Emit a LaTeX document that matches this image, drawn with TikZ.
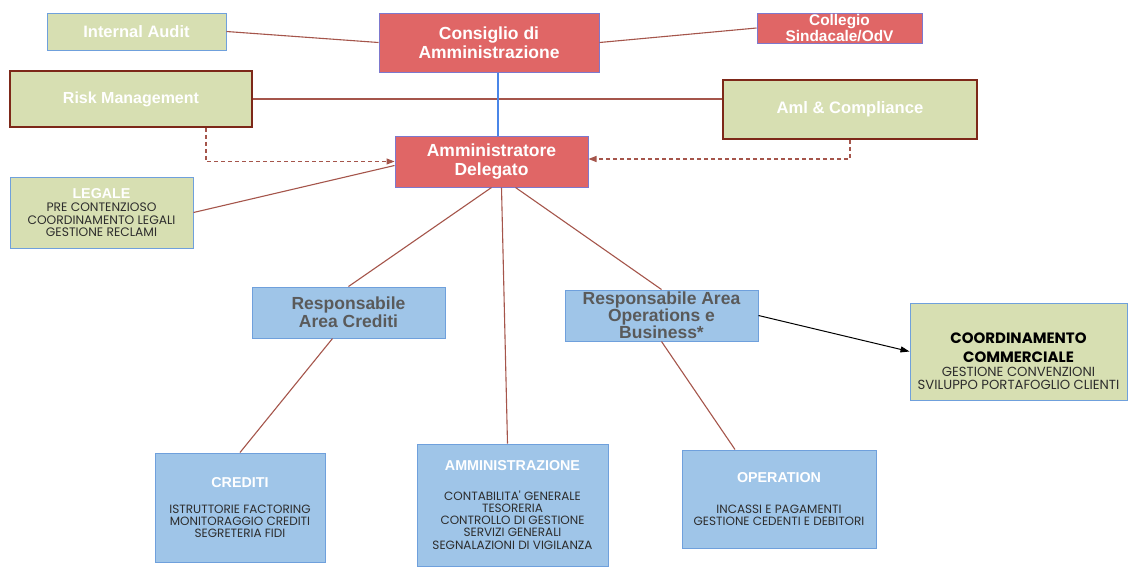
\documentclass[tikz,border=0pt]{standalone}
\usepackage{fontspec}
\setmainfont{Liberation Sans}
\newfontfamily\gothic{Poppins}
\usetikzlibrary{arrows.meta,calc}

\definecolor{boardred}{RGB}{224,102,102}
\definecolor{boardedge}{RGB}{125,120,205}
\definecolor{sage}{RGB}{215,223,178}
\definecolor{skyfill}{RGB}{159,197,232}
\definecolor{skyedge}{RGB}{111,160,220}
\definecolor{rust}{RGB}{125,40,25}
\definecolor{linkbrown}{RGB}{165,85,75}
\definecolor{wireblue}{RGB}{74,134,232}
\definecolor{headgray}{RGB}{90,90,90}
\definecolor{listgray}{RGB}{45,45,45}

\tikzset{
  box/.style={draw, inner sep=0pt, align=center, line width=1pt},
  redbox/.style={box, fill=boardred, draw=boardedge, text=white, font=\bfseries\fontsize{17.5}{18.5}\selectfont},
  sagebox/.style={box, fill=sage, draw=skyedge, text=white, font=\bfseries\fontsize{16.5}{18}\selectfont},
  rustbox/.style={box, fill=sage, draw=rust, line width=1.6pt, text=white, font=\bfseries\fontsize{16}{18}\selectfont},
  skybox/.style={box, fill=skyfill, draw=skyedge, text=headgray, font=\bfseries\fontsize{17.5}{18}\selectfont},
  unitbox/.style={box, fill=skyfill, draw=skyedge, text=listgray, font=\gothic\fontsize{12}{12.3}\selectfont},
  link/.style={draw=linkbrown, line width=1.1pt},
  dotlink/.style={link, dash pattern=on 4pt off 3pt, -{Triangle[length=8pt,width=6pt]}},
}
\newcommand{\unittitle}[1]{\textcolor{white}{\rmfamily\bfseries\fontsize{14.3}{14}\selectfont #1}}

\begin{document}
\begin{tikzpicture}[x=1pt,y=-1pt]
  \useasboundingbox[fill=white] (0,0) rectangle (1128,566);

  % top level
  \node[sagebox, minimum width=179pt, minimum height=37pt] at (136.5,31.5) (ia) {Internal Audit};
  \node[redbox, minimum width=220pt, minimum height=59pt] at (489,42.5) (cons) {Consiglio di\\Amministrazione};
  \node[redbox, minimum width=165pt, minimum height=30pt, font=\bfseries\fontsize{15.4}{14}\selectfont] at (839.5,28) (coll) {Collegio\\Sindacale/OdV};
  \node[rustbox, minimum width=242pt, minimum height=56pt] at (131,99) (risk) {Risk Management};
  \node[rustbox, minimum width=254pt, minimum height=59pt, font=\bfseries\fontsize{16.6}{18}\selectfont] at (850,109.5) (aml) {Aml \& Compliance};
  \node[redbox, minimum width=193pt, minimum height=51pt] at (491.5,161.5) (ad) {Amministratore\\Delegato};
  \node[sagebox, minimum width=183pt, minimum height=71pt, text=listgray, font=\gothic\fontsize{12.3}{12.3}\selectfont] at (101.5,212.5) (legale)
    {\unittitle{LEGALE}\\[1pt]PRE CONTENZIOSO\\COORDINAMENTO LEGALI\\GESTIONE RECLAMI};

  % middle level
  \node[skybox, minimum width=193pt, minimum height=51pt] at (348.5,312.5) (rcred) {Responsabile\\Area Crediti};
  \node[skybox, minimum width=193pt, minimum height=51pt, font=\bfseries\fontsize{17.5}{17}\selectfont] at (661.5,315.5) (rops) {Responsabile Area\\Operations e\\Business*};
  \node[sagebox, minimum width=217pt, minimum height=97pt, text=listgray, font=\gothic\fontsize{13.2}{12.6}\selectfont] at (1018.5,351.5) (coord)
    {\rule{0pt}{30pt}\textcolor{black}{\bfseries\fontsize{15}{14}\selectfont COORDINAMENTO}\\[6pt]\textcolor{black}{\bfseries\fontsize{15}{14}\selectfont COMMERCIALE}\\[2pt]GESTIONE CONVENZIONI\\SVILUPPO PORTAFOGLIO CLIENTI};

  % units
  \node[unitbox, minimum width=170pt, minimum height=109pt] at (240,507.5) (cred)
    {\unittitle{CREDITI}\\[14pt]ISTRUTTORIE FACTORING\\MONITORAGGIO CREDITI\\SEGRETERIA FIDI};
  \node[unitbox, minimum width=191pt, minimum height=122pt] at (512.5,505) (amm)
    {\unittitle{AMMINISTRAZIONE}\\[17pt]CONTABILITA' GENERALE\\TESORERIA\\CONTROLLO DI GESTIONE\\SERVIZI GENERALI\\SEGNALAZIONI DI VIGILANZA};
  \node[unitbox, minimum width=194pt, minimum height=98pt] at (779,499) (oper)
    {\unittitle{OPERATION}\\[19pt]INCASSI E PAGAMENTI\\GESTIONE CEDENTI E DEBITORI};

  % connectors
  \draw[link] (ia.east) -- (cons.west);
  \draw[link] (cons.east) -- (coll.west);
  \draw[link] (risk.east) -- (risk.east -| aml.west);
  \draw[draw=wireblue, line width=1.1pt] ($(cons.south)+(9,0)$) -- ($(ad.north)+(6.5,0)$);
  \draw[dotlink] ($(risk.south)+(75,0)$) |- (ad.west);
  \draw[dotlink] (aml.south) |- ($(ad.east)+(0,-2.5)$);
  \draw[link] (legale.east) -- ($(ad.west)+(0,4)$);
  \draw[link] (ad.south) -- (rcred.north);
  \draw[link] ($(ad.south)+(10,0)$) -- ($(amm.north)+(-5,0)$);
  \draw[link] ($(ad.south)+(24,0)$) -- (rops.north);
  \draw[link] (rops.south) -- ($(oper.north)+(-44,0)$);
  \draw[link] ($(rcred.south)+(-16,0)$) -- (cred.north);
  \draw[-{Triangle[length=9pt,width=6pt]}, line width=1pt] (rops.east) -- (coord.west);
\end{tikzpicture}
\end{document}
